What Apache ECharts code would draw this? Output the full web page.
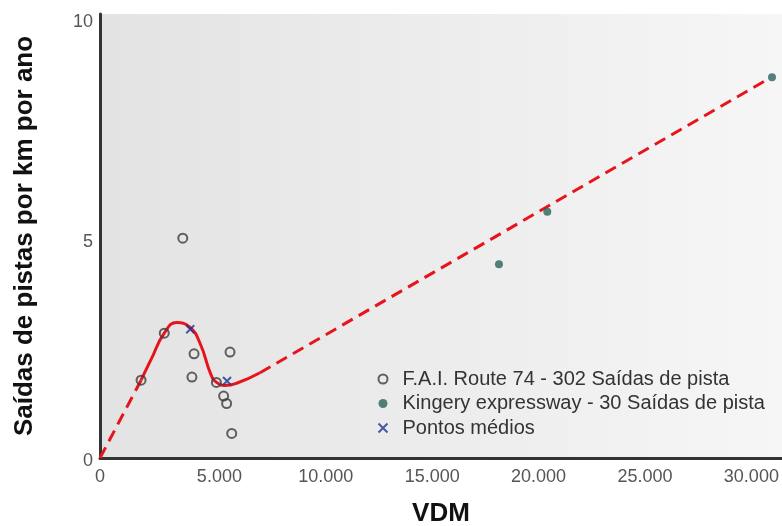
<!DOCTYPE html>
<html>
<head>
<meta charset="utf-8">
<script src="https://cdn.jsdelivr.net/npm/echarts@6/dist/echarts.min.js"></script>
<style>
  html, body { margin: 0; padding: 0; background: #ffffff; }
  #chart { width: 782px; height: 526px; }
</style>
</head>
<body>
<div id="chart"></div>
<script>
// F.A.I. Route 74: run-off-road rate (per km per year) against VDM
const route74Vdm  = [1930, 3020, 3890, 4420, 4320, 5470, 6110, 5810, 5950, 6190];
const route74Rate = [1.77, 2.84, 5.00, 2.37, 1.84, 1.72, 2.41, 1.41, 1.24, 0.56];

// Kingery expressway
const kingeryVdm  = [18750, 21020, 31580];
const kingeryRate = [4.41, 5.60, 8.66];

// Mid points of the Route 74 groups
const mediosVdm  = [4240, 5970];
const mediosRate = [2.93, 1.75];

// Trend curve: dashed start, fitted solid part, dashed extension
const trendStartVdm  = [0, 1930];
const trendStartRate = [0, 1.77];
const trendFitVdm  = [1930, 2430, 3020, 3600, 4230, 4700, 5220, 5480, 5870, 6420, 7520];
const trendFitRate = [1.77, 2.27, 2.84, 3.08, 2.97, 2.61, 1.89, 1.72, 1.65, 1.70, 1.94];
const trendEndVdm  = [7520, 31250];
const trendEndRate = [1.94, 8.58];

// Axis ticks
const xTicks = [0, 5000, 10000, 15000, 20000, 25000, 30000];
const yTicks = [0, 5, 10];

const pairs = (xs, ys) => xs.map((x, i) => [x, ys[i]]);
const thousands = v => String(v).replace(/\B(?=(\d{3})+(?!\d))/g, '.');

const chart = echarts.init(document.getElementById('chart'), null, { renderer: 'canvas' });

const FONT = '"Liberation Sans", Arial, sans-serif';
const RED = '#e8141c';
const TICK = { fontSize: 18, color: '#555', fontFamily: FONT };

chart.setOption({
  animation: false,
  textStyle: { fontFamily: FONT },
  grid: {
    left: 100, right: 0, top: 14, bottom: 68,
    containLabel: false,
    outerBoundsMode: 'none',
    show: true,
    borderWidth: 0,
    backgroundColor: new echarts.graphic.LinearGradient(0, 0, 1, 0, [
      { offset: 0, color: '#e3e3e3' },
      { offset: 1, color: '#f6f6f6' }
    ])
  },
  legend: {
    orient: 'vertical',
    left: 372.5,
    top: 364,
    itemWidth: 9,
    itemHeight: 9,
    itemGap: 4.5,
    data: ['F.A.I. Route 74 - 302 Saídas de pista', 'Kingery expressway - 30 Saídas de pista', 'Pontos médios'],
    textStyle: { fontSize: 20, color: '#333', lineHeight: 20, padding: [0, 0, 0, 10], fontFamily: FONT }
  },
  xAxis: {
    type: 'value',
    min: 0,
    max: 32050,
    interval: 5000,
    name: 'VDM',
    nameLocation: 'middle',
    nameGap: 43,
    nameTextStyle: { fontSize: 26, fontWeight: 'bold', color: '#111', fontFamily: FONT },
    splitLine: { show: false },
    axisTick: { show: false },
    axisLine: { show: true, onZero: false, lineStyle: { color: '#333', width: 3 } },
    axisLabel: {
      fontSize: 18, color: '#555', margin: 10,
      formatter: v => xTicks.includes(v) ? (v === 0 ? '{z|0}' : '{n|' + thousands(v) + '}') : '',
      rich: {
        z: TICK,
        n: Object.assign({ padding: [0, 0, 0, 26] }, TICK)
      }
    }
  },
  yAxis: {
    type: 'value',
    min: 0,
    max: 10.1,
    interval: 5,
    name: 'Saídas de pistas por km por ano',
    nameLocation: 'middle',
    nameGap: 62,
    nameTextStyle: { fontSize: 26, fontWeight: 'bold', color: '#111', fontFamily: FONT },
    splitLine: { show: false },
    axisTick: { show: false },
    axisLine: { show: true, onZero: false, lineStyle: { color: '#333', width: 3 } },
    axisLabel: {
      fontSize: 18, color: '#555', margin: 7,
      formatter: v => yTicks.includes(v) ? '{t|' + v + '}' : '',
      rich: {
        t: Object.assign({ padding: [7, 0, 0, 0] }, TICK)
      }
    }
  },
  series: [
    {
      type: 'line', name: 'trend-start', data: pairs(trendStartVdm, trendStartRate),
      symbol: 'none', lineStyle: { color: RED, width: 3, type: [12, 7] }, z: 1, silent: true
    },
    {
      type: 'line', name: 'trend-fit', data: pairs(trendFitVdm, trendFitRate),
      symbol: 'none', smooth: 0.5, lineStyle: { color: RED, width: 3 }, z: 1, silent: true
    },
    {
      type: 'line', name: 'trend-end', data: pairs(trendEndVdm, trendEndRate),
      symbol: 'none', lineStyle: { color: RED, width: 3, type: [12, 7] }, z: 1, silent: true
    },
    {
      type: 'scatter', name: 'F.A.I. Route 74 - 302 Saídas de pista',
      data: pairs(route74Vdm, route74Rate),
      symbol: 'circle', symbolSize: 9,
      itemStyle: { color: 'rgba(0,0,0,0)', borderColor: '#3c3c3c', borderWidth: 2 }, z: 3
    },
    {
      type: 'scatter', name: 'Kingery expressway - 30 Saídas de pista',
      data: pairs(kingeryVdm, kingeryRate),
      symbol: 'circle', symbolSize: 8,
      itemStyle: { color: '#2a645a' }, z: 3
    },
    {
      type: 'scatter', name: 'Pontos médios',
      data: pairs(mediosVdm, mediosRate),
      symbol: 'path://M0,0L10,10M0,10L10,0', symbolSize: 8,
      itemStyle: { color: '#1b3591', borderColor: '#1b3591', borderWidth: 2 }, z: 4
    }
  ]
});
</script>
</body>
</html>
